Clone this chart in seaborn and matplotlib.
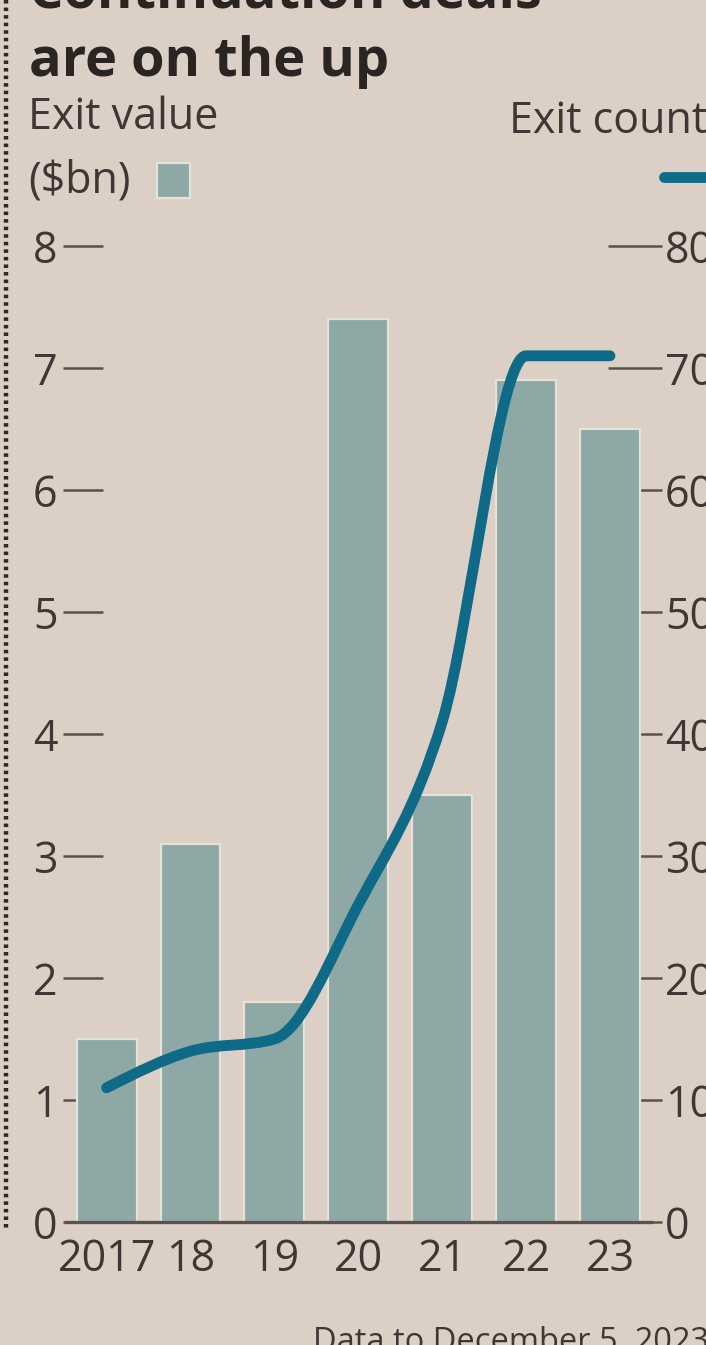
import numpy as np
import pandas as pd
import matplotlib
matplotlib.use("Agg")
import matplotlib.pyplot as plt
from matplotlib.path import Path
from matplotlib.patches import PathPatch, Rectangle
from matplotlib.lines import Line2D
import seaborn as sns

# ---- data ----
years = ["2017", "18", "19", "20", "21", "22", "23"]
exit_value = [1.5, 3.1, 1.8, 7.4, 3.5, 6.9, 6.5]      # $bn (bars)
exit_count = [11, 14, 15, 26, 41, 71, 71]             # count (line)
left_ticks = [0, 1, 2, 3, 4, 5, 6, 7, 8]
left_labels = ["0", "1", "2", "3", "4", "5", "6", "7", "8"]
right_ticks = [0, 10, 20, 30, 40, 50, 60, 70, 80]
right_labels = ["0", "10", "20", "30", "40", "50", "60", "70", "80"]

BG = "#DCD0C6"
BAR = "#8DA8A5"
BAR_EDGE = "#E6E2D8"
LINE = "#0E6A86"
TXT = "#3E3735"
AX = "#5A5250"

W, H = 706, 1345
sns.set_style("ticks")
plt.rcParams["font.family"] = ["Open Sans", "DejaVu Sans"]

fig = plt.figure(figsize=(W / 100, H / 100), dpi=100, facecolor=BG)

def fx(x):
    return x / W

def fy(y):
    return 1 - y / H

ax_l, ax_r, ax_t, ax_b = 63, 662, 246, 1222
rect = [fx(ax_l), fy(ax_b), fx(ax_r) - fx(ax_l), fy(ax_t) - fy(ax_b)]

# right axis (count) placed behind the bar axis so bars hide its ticks
ax2 = fig.add_axes(rect, facecolor=BG)
ax = fig.add_axes(rect)
ax.patch.set_visible(False)
ax2.set_zorder(0)
ax.set_zorder(1)

df = pd.DataFrame({"year": years, "value": exit_value})
sns.barplot(data=df, x="year", y="value", ax=ax, color=BAR, width=0.714,
            edgecolor=BAR_EDGE, linewidth=1.6, saturation=1, zorder=2)

x0, x1 = -0.52, 6.62
ax.set_xlim(x0, x1)
ax.set_ylim(0, 8)
ax2.set_xlim(x0, x1)
ax2.set_ylim(0, 80)

for a in (ax, ax2):
    for s in ["top", "left", "right", "bottom"]:
        a.spines[s].set_visible(False)
ax.spines["bottom"].set_visible(True)
ax.spines["bottom"].set_bounds(-0.49, 6.49)
ax.spines["bottom"].set_color(AX)
ax.spines["bottom"].set_linewidth(2.4)
ax.spines["bottom"].set_zorder(3)

ax.set_axisbelow(True)
ax.set_yticks(left_ticks)
ax.set_yticklabels(left_labels)
ax.tick_params(axis="y", direction="in", length=28.5, width=1.8, color=AX,
               pad=4, labelsize=31, labelcolor=TXT)
ax.tick_params(axis="x", length=0, pad=11, labelsize=31, labelcolor=TXT)
ax.set_xlabel("")
ax.set_ylabel("")

ax2.yaxis.tick_right()
ax2.set_xticks([])
ax2.set_yticks(right_ticks)
ax2.set_yticklabels(right_labels)
ax2.tick_params(axis="y", direction="in", length=39, width=1.8, color=AX,
                pad=2, labelsize=31, labelcolor=TXT)

# smooth monotone line (d3 curveMonotoneX style) through the count points
xs = np.arange(len(exit_count), dtype=float)
ys = np.array(exit_count, dtype=float)
n = len(xs)
sec = np.diff(ys) / np.diff(xs)
t = np.zeros(n)
for i in range(1, n - 1):
    s0, s1 = sec[i - 1], sec[i]
    p = (s0 + s1) / 2
    t[i] = (np.sign(s0) + np.sign(s1)) * min(abs(s0), abs(s1), 0.5 * abs(p))
t[0] = (3 * sec[0] - t[1]) / 2
t[-1] = (3 * sec[-1] - t[-2]) / 2
verts = [(xs[0], ys[0])]
codes = [Path.MOVETO]
for i in range(n - 1):
    h = xs[i + 1] - xs[i]
    verts += [(xs[i] + h / 3, ys[i] + h / 3 * t[i]),
              (xs[i + 1] - h / 3, ys[i + 1] - h / 3 * t[i + 1]),
              (xs[i + 1], ys[i + 1])]
    codes += [Path.CURVE4] * 3
curve = PathPatch(Path(verts, codes), facecolor="none", edgecolor=LINE,
                  linewidth=7.8, capstyle="round", joinstyle="round",
                  transform=ax2.transData, zorder=5, clip_on=False)
ax.add_patch(curve)

# ---- titles and legend ----
fig.text(fx(29), fy(8), "Continuation deals", fontsize=39, fontweight="bold",
         color="#2A2422", va="baseline", ha="left")
fig.text(fx(29), fy(76), "are on the up", fontsize=39, fontweight="bold",
         color="#2A2422", va="baseline", ha="left")
fig.text(fx(28), fy(129), "Exit value", fontsize=31, color=TXT,
         va="baseline", ha="left")
fig.text(fx(28), fy(193), "($bn)", fontsize=31, color=TXT,
         va="baseline", ha="left")
fig.text(fx(509), fy(133), "Exit count", fontsize=31, color=TXT,
         va="baseline", ha="left")
fig.patches.append(Rectangle((fx(157), fy(198)), fx(190) - fx(157),
                             fy(163) - fy(198), transform=fig.transFigure,
                             facecolor=BAR, edgecolor=BAR_EDGE, linewidth=1.6))
fig.lines.append(Line2D([fx(664), fx(730)], [fy(177), fy(177)],
                        transform=fig.transFigure, color=LINE, linewidth=7.8,
                        solid_capstyle="round"))
# dotted left border
fig.lines.append(Line2D([fx(6), fx(6)], [fy(0), fy(1228)],
                        transform=fig.transFigure, color="#2E2927",
                        linewidth=3.2, linestyle=(0, (0.8, 0.9)),
                        dash_capstyle="butt"))
fig.text(fx(313), fy(1326), "Data to December 5, 2023", fontsize=23.5,
         color=TXT, va="top", ha="left")

fig.savefig("out.png", dpi=100, facecolor=BG)
